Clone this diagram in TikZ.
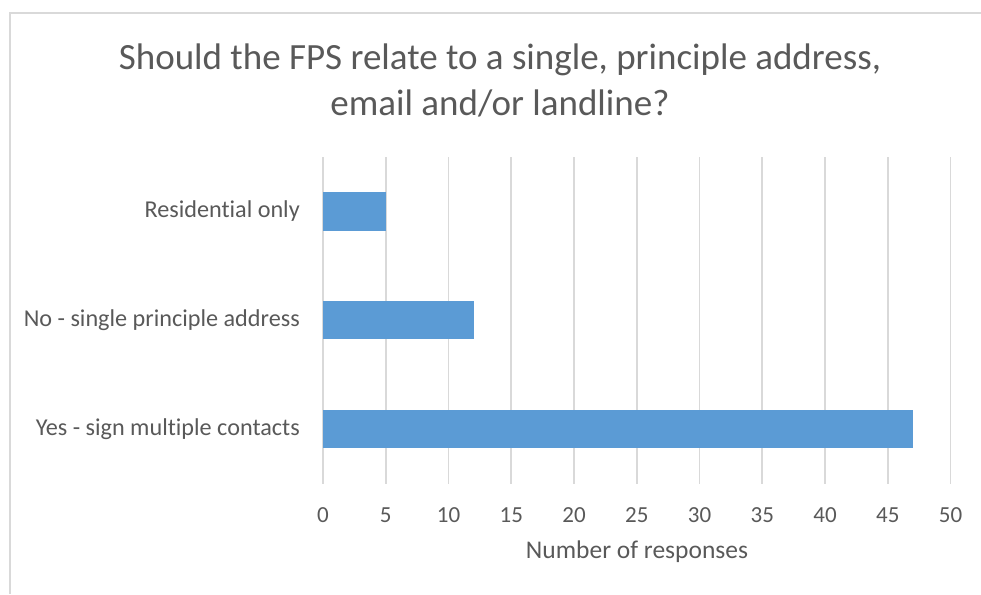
\documentclass[tikz,border=0pt]{standalone}
\usepackage{fontspec}
\setmainfont{Carlito}[Ligatures=NoCommon]
\usetikzlibrary{positioning}
\definecolor{barblue}{HTML}{5B9BD5}
\definecolor{gridgray}{HTML}{D9D9D9}
\definecolor{textgray}{HTML}{595959}

\begin{document}
\begin{tikzpicture}[x=1pt,y=-1pt,
  grid line/.style={gridgray,line width=1.8pt},
  bar/.style={fill=barblue,draw=none,inner sep=0pt,minimum height=38.5pt,anchor=west},
  tick label/.style={text=textgray,font=\fontsize{23}{23}\selectfont},
  axis title/.style={text=textgray,font=\fontsize{25.5}{25.5}\selectfont},
  cat label/.style={text=textgray,font=\fontsize{24.2}{24.2}\selectfont,anchor=east,inner sep=0pt},
  title text/.style={text=textgray,align=center,font=\fontsize{37}{46}\selectfont}]
\useasboundingbox (0,0) rectangle (981,594);

% chart frame (only top and left edges are inside the page)
\draw[gridgray,line width=1.5pt] (10,594) -- (10,13) -- (981,13);

\node[title text] (title) at (500,80) {Should the FPS relate to a single, principle address,\\email and/or landline?};

% value gridlines and tick labels
\foreach \v in {0,5,...,50}{
  \draw[grid line] ({323+12.55*\v},157) -- ({323+12.55*\v},484);
  \node[tick label] (tick\v) at ({323+12.55*\v},515.5) {\v};
}

% bars with their category labels
\foreach \val/\yc/\cat [count=\i] in {5/211.5/Residential only,
    12/320/No - single principle address,
    47/429/Yes - sign multiple contacts}{
  \node[bar,minimum width={12.55*\val}] (bar\i) at (323,\yc) {};
  \node[cat label,left=23pt of bar\i.west] (cat\i) {\cat};
}

\node[axis title] (xtitle) at (637,552) {Number of responses};
\end{tikzpicture}
\end{document}
